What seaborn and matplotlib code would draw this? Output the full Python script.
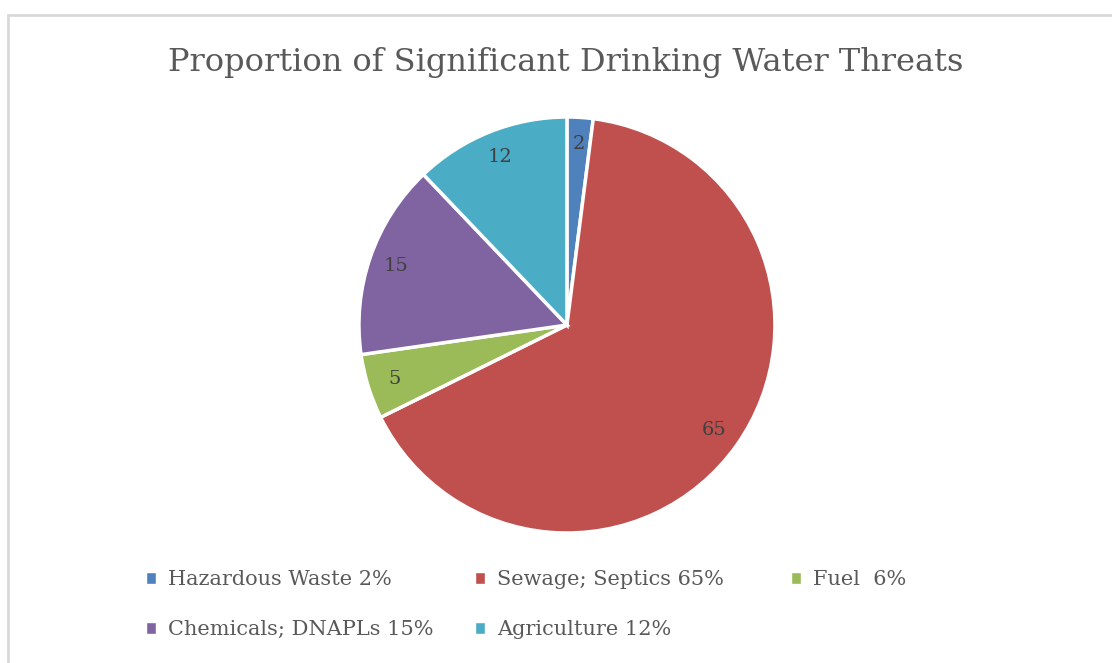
import matplotlib
matplotlib.use("Agg")
import matplotlib.pyplot as plt
import seaborn as sns
from matplotlib.patches import Rectangle, Patch

categories = ["Hazardous Waste", "Sewage; Septics", "Fuel", "Chemicals; DNAPLs", "Agriculture"]
values = [2, 65, 5, 15, 12]
legend_labels = ["Hazardous Waste 2%", "Sewage; Septics 65%", "Fuel  6%",
                 "Chemicals; DNAPLs 15%", "Agriculture 12%"]
colors = ["#4F81BD", "#C0504D", "#9BBB59", "#8064A2", "#4BACC6"]

sns.set_theme(style="white")
plt.rcParams["font.family"] = ["DejaVu Serif"]

fig = plt.figure(figsize=(11.12, 6.63), dpi=100)

# light frame like the office chart border
fig.patches.append(Rectangle((8 / 1112, -0.1), 1.2, 1 - 15 / 663 + 0.1,
                             transform=fig.transFigure, fill=False,
                             edgecolor="#D9D9D9", linewidth=2))

ax = fig.add_axes([0.3041, 0.1647, 0.4115, 0.6902])
total = sum(values)
wedges, texts, autotexts = ax.pie(
    values, colors=colors, startangle=90, counterclock=False,
    autopct=lambda p: f"{p * total / 100:.0f}", pctdistance=0.87,
    wedgeprops=dict(edgecolor="white", linewidth=2.5),
    textprops=dict(color="#404040", fontsize=14))
ax.set_xlim(-1.1, 1.1)
ax.set_ylim(-1.1, 1.1)
ax.set_aspect("equal")
ax.axis("off")

fig.text(566 / 1112, 1 - 62 / 663, "Proportion of Significant Drinking Water Threats",
         ha="center", va="center", fontsize=23, color="#595959")

# legend laid out in fixed-width columns, filled row by row
handles = [Patch(facecolor=c) for c in colors]
columns = [([0, 3], 146), ([1, 4], 475), ([2], 791)]
for idx, x0 in columns:
    fig.legend([handles[i] for i in idx], [legend_labels[i] for i in idx],
               loc="upper left", bbox_to_anchor=(x0 / 1112, 1 - 570 / 663),
               frameon=False, fontsize=15, handlelength=0.5, handleheight=0.5,
               handletextpad=0.55, labelspacing=1.5, borderaxespad=0,
               borderpad=0, labelcolor="#595959")

fig.savefig("out.png", dpi=100)
